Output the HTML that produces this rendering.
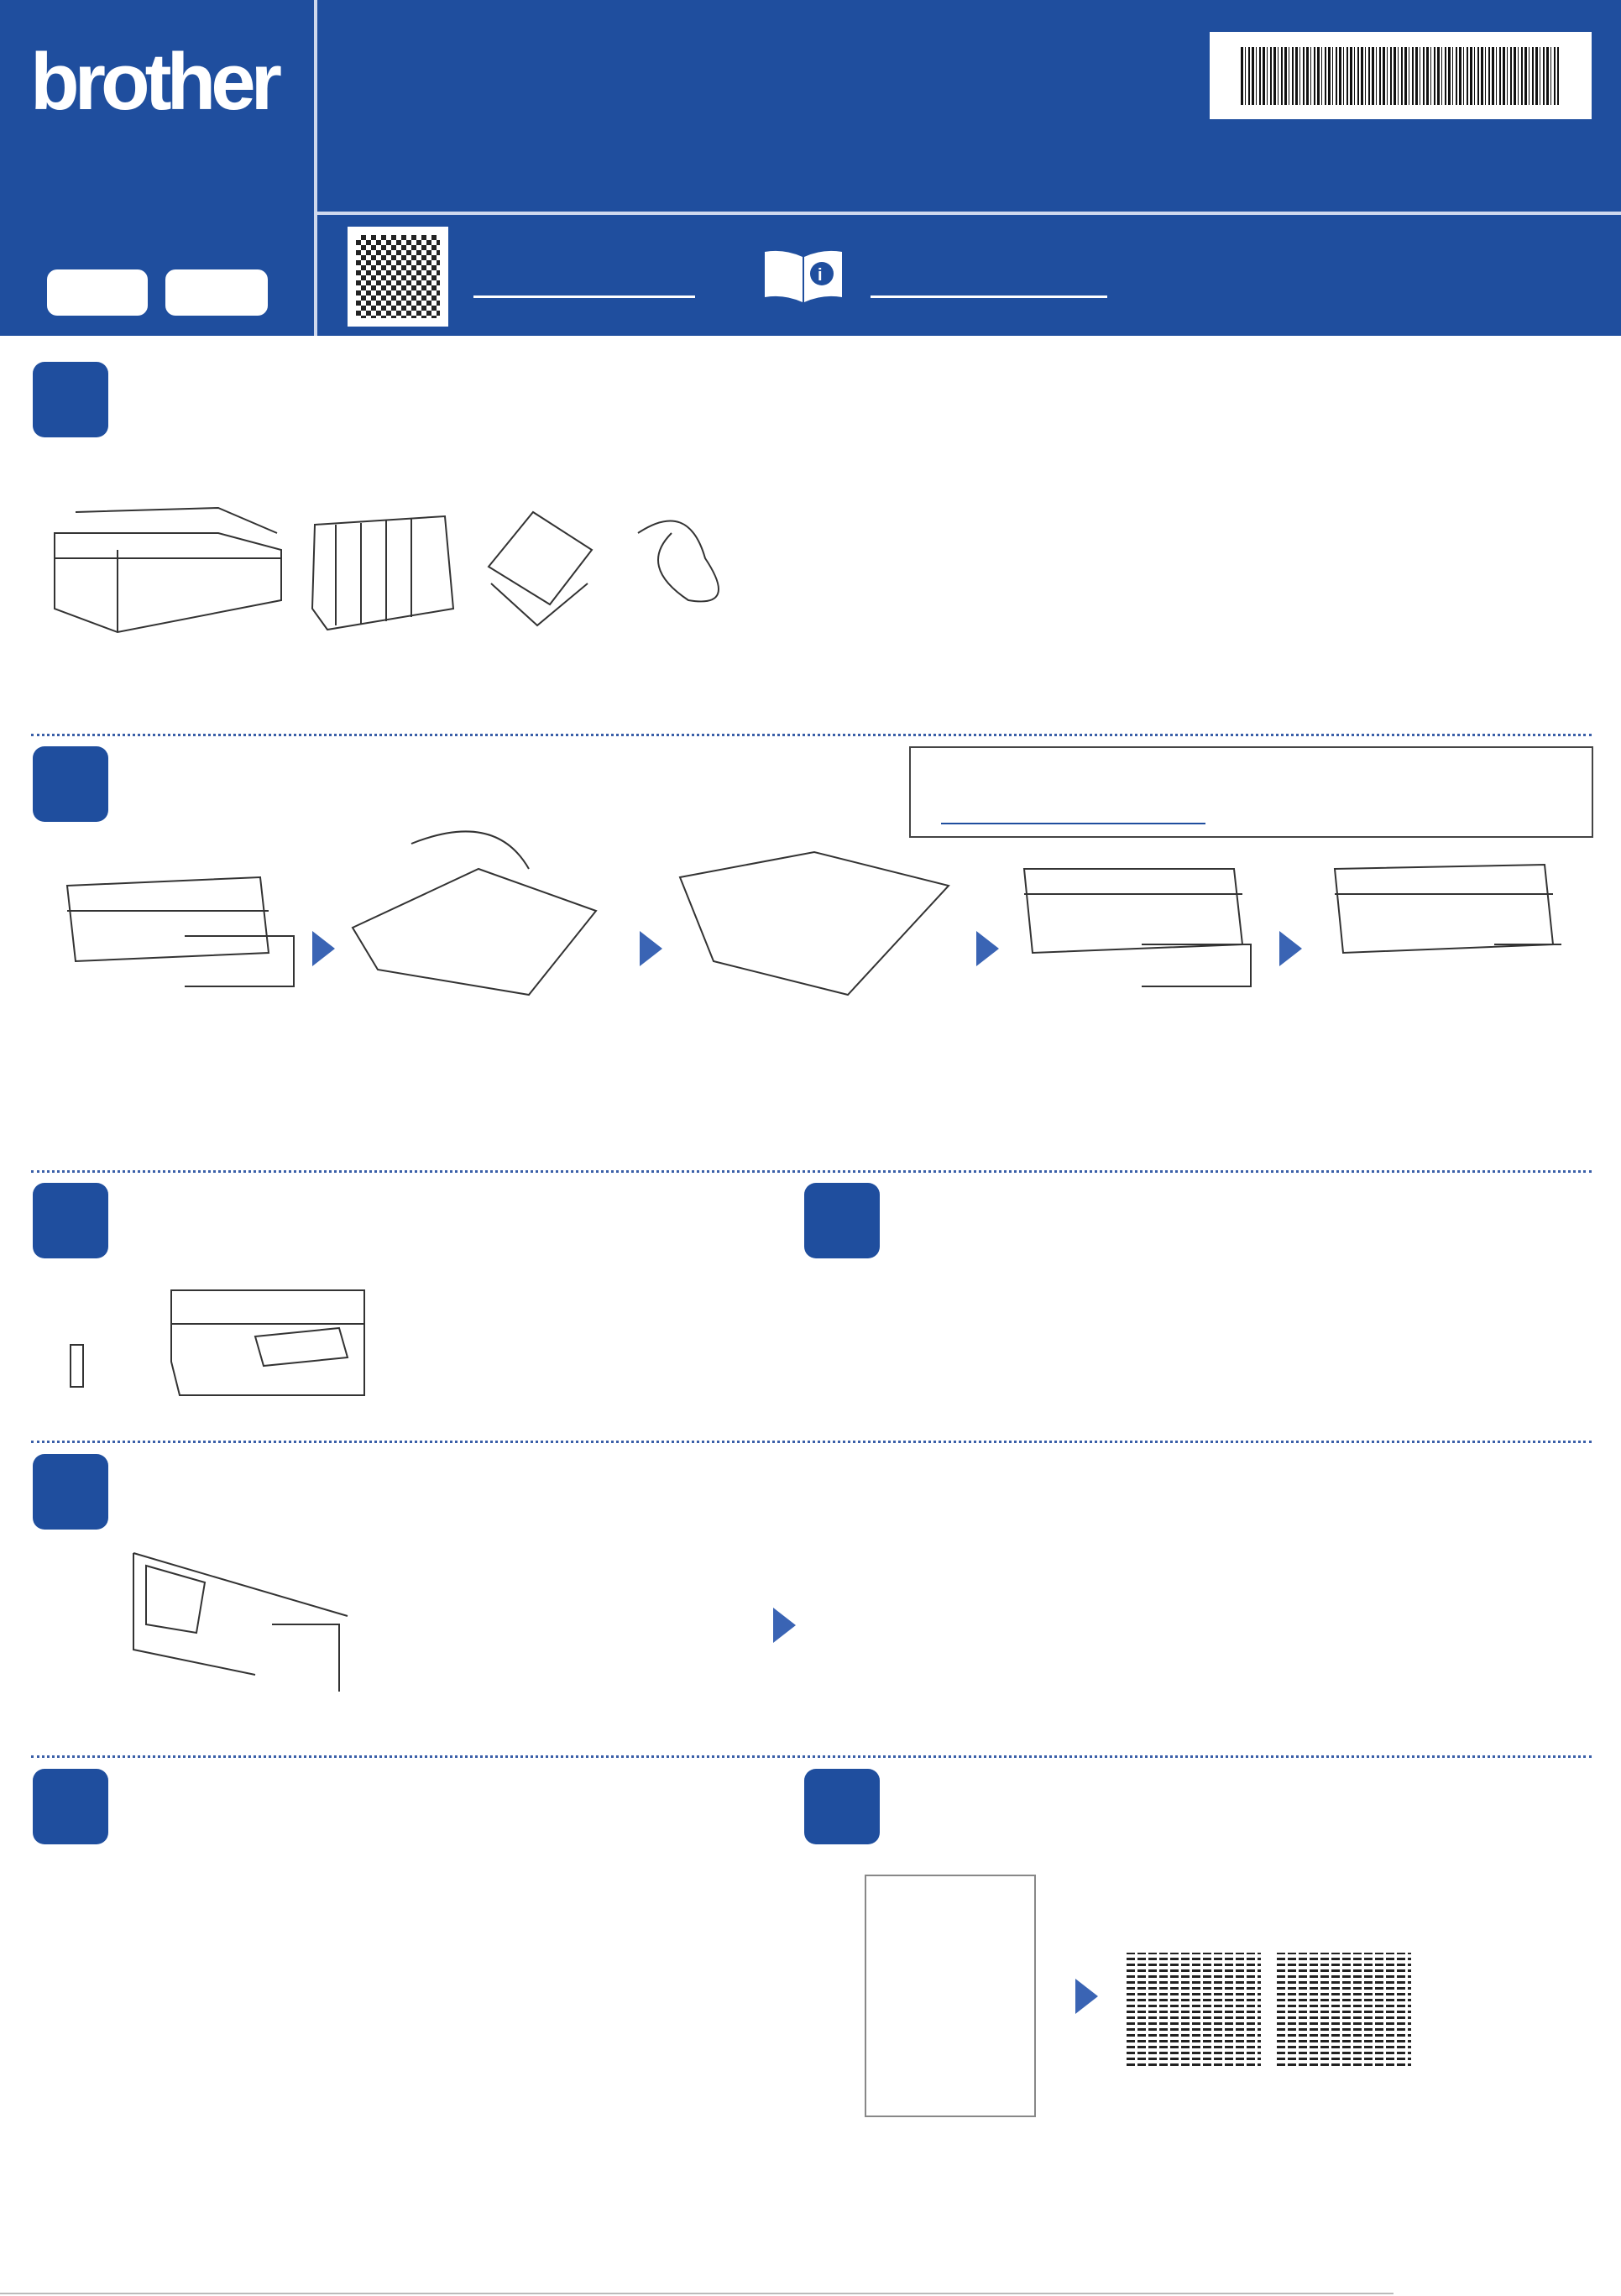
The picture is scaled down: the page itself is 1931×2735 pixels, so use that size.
<!DOCTYPE html>
<html><head><meta charset="utf-8"><style>
body{margin:0;width:1931px;height:2735px;position:relative;background:#fff;font-family:"Liberation Sans",sans-serif;overflow:hidden}
.a{position:absolute}
.step{position:absolute;width:90px;height:90px;background:#1f4e9e;border-radius:14px}
.div{position:absolute;left:37px;width:1859px;border-top:3px dotted #3a5fa8}
.arr{position:absolute;width:0;height:0;border-top:21px solid transparent;border-bottom:21px solid transparent;border-left:27px solid #3a64b4}
</style></head><body>
<div class="a" style="left:0;top:0;width:1931px;height:400px;background:#1f4e9e"></div>
<div class="a" style="left:374px;top:0;width:4px;height:400px;background:#cfd9ee"></div>
<div class="a" style="left:378px;top:252px;width:1553px;height:4px;background:#cfd9ee"></div>
<div class="a" style="left:36px;top:50px;color:#fff;font-size:96px;font-weight:bold;letter-spacing:-6px;line-height:1">brother</div>
<div class="a" style="left:56px;top:321px;width:120px;height:55px;background:#fff;border-radius:12px"></div>
<div class="a" style="left:197px;top:321px;width:122px;height:55px;background:#fff;border-radius:12px"></div>
<div class="a" style="left:1441px;top:38px;width:455px;height:104px;background:#fff"></div>
<div class="a" style="left:1478px;top:56px;width:379px;height:69px;background:repeating-linear-gradient(90deg,#111 0 3px,#fff 3px 5px,#111 5px 6px,#fff 6px 9px,#111 9px 11px,#fff 11px 13px)"></div>
<div class="a" style="left:414px;top:270px;width:120px;height:119px;background:#fff"></div>
<div class="a" style="left:424px;top:280px;width:100px;height:99px;background:repeating-conic-gradient(#222 0 25%,#fff 0 50%) 0 0/12px 12px"></div>
<div class="a" style="left:564px;top:352px;width:264px;height:3px;background:#fff"></div>
<div class="a" style="left:1037px;top:352px;width:282px;height:3px;background:#fff"></div>
<svg class="a" style="left:909px;top:296px" width="96" height="68"><path d="M2 4 Q25 0 47 10 L47 64 Q25 54 2 58Z M49 10 Q71 0 94 4 L94 58 Q71 54 49 64Z" fill="#fff"/><circle cx="70" cy="30" r="14" fill="#1f4e9e"/><text x="65" y="38" fill="#fff" font-size="20" font-weight="bold" font-family="Liberation Sans">i</text></svg>

<div class="step" style="left:39px;top:431px"></div>
<svg class="a" style="left:60px;top:595px" width="850" height="160" fill="none" stroke="#333" stroke-width="2">
<path d="M5 40 L200 40 L275 60 L275 120 L80 158 L5 130Z M5 70 L275 70 M80 60 L80 158 M30 15 L200 10 L270 40"/>
<path d="M315 30 L470 20 L480 130 L330 155 L312 130Z M340 30 L340 150 M370 28 L370 148 M400 25 L400 145 M430 22 L430 140"/>
<path d="M522 80 L575 15 L645 60 L595 125Z M525 100 L580 150 L640 100"/>
<path d="M700 40 Q760 0 780 70 Q820 130 760 120 Q700 80 740 40"/>
</svg>
<div class="div" style="top:874px"></div>

<div class="step" style="left:39px;top:889px"></div>
<div class="a" style="left:1083px;top:889px;width:811px;height:105px;border:2px solid #444"></div>
<div class="a" style="left:1121px;top:980px;width:315px;height:2px;background:#1f4e9e"></div>
<svg class="a" style="left:70px;top:975px" width="1800" height="250" fill="none" stroke="#333" stroke-width="2">
<path d="M10 80 L240 70 L250 160 L20 170Z M10 110 L250 110 M150 140 L280 140 L280 200 L150 200"/>
<path d="M350 130 L500 60 L640 110 L560 210 L380 180Z M420 30 Q520 -10 560 60"/>
<path d="M740 70 L900 40 L1060 80 L940 210 L780 170Z"/>
<path d="M1150 60 L1400 60 L1410 150 L1160 160Z M1150 90 L1410 90 M1290 150 L1420 150 L1420 200 L1290 200"/>
<path d="M1520 60 L1770 55 L1780 150 L1530 160Z M1520 90 L1780 90 M1710 150 L1790 150"/>
</svg>
<div class="arr" style="left:372px;top:1109px"></div>
<div class="arr" style="left:762px;top:1109px"></div>
<div class="arr" style="left:1163px;top:1109px"></div>
<div class="arr" style="left:1524px;top:1109px"></div>
<div class="div" style="top:1394px"></div>

<div class="step" style="left:39px;top:1409px"></div>
<div class="step" style="left:958px;top:1409px"></div>
<svg class="a" style="left:74px;top:1522px" width="370" height="165" fill="none" stroke="#333" stroke-width="2">
<path d="M130 15 L360 15 L360 140 L140 140 L130 100Z M130 55 L360 55 M230 70 L330 60 L340 95 L240 105Z M10 80 L25 80 L25 130 L10 130Z"/>
</svg>
<div class="div" style="top:1716px"></div>

<div class="step" style="left:39px;top:1732px"></div>
<svg class="a" style="left:154px;top:1845px" width="262" height="185" fill="none" stroke="#333" stroke-width="2">
<path d="M5 5 L260 80 M5 5 L5 120 L150 150 M20 20 L90 40 L80 100 L20 90Z M170 90 L250 90 L250 170"/>
</svg>
<div class="arr" style="left:921px;top:1915px"></div>
<div class="div" style="top:2091px"></div>

<div class="step" style="left:39px;top:2107px"></div>
<div class="step" style="left:958px;top:2107px"></div>
<div class="a" style="left:1030px;top:2233px;width:200px;height:285px;border:2px solid #888"></div>
<div class="arr" style="left:1281px;top:2357px"></div>
<div class="a" style="left:1342px;top:2326px;width:160px;height:135px;background:repeating-linear-gradient(0deg,#222 0 3px,#fff 3px 7px);-webkit-mask:repeating-linear-gradient(90deg,#000 0 10px,transparent 10px 13px)"></div>
<div class="a" style="left:1521px;top:2326px;width:160px;height:135px;background:repeating-linear-gradient(0deg,#222 0 3px,#fff 3px 7px);-webkit-mask:repeating-linear-gradient(90deg,#000 0 10px,transparent 10px 13px)"></div>
<div class="a" style="left:0;top:2731px;width:1660px;height:2px;background:#bbb"></div>
</body></html>
